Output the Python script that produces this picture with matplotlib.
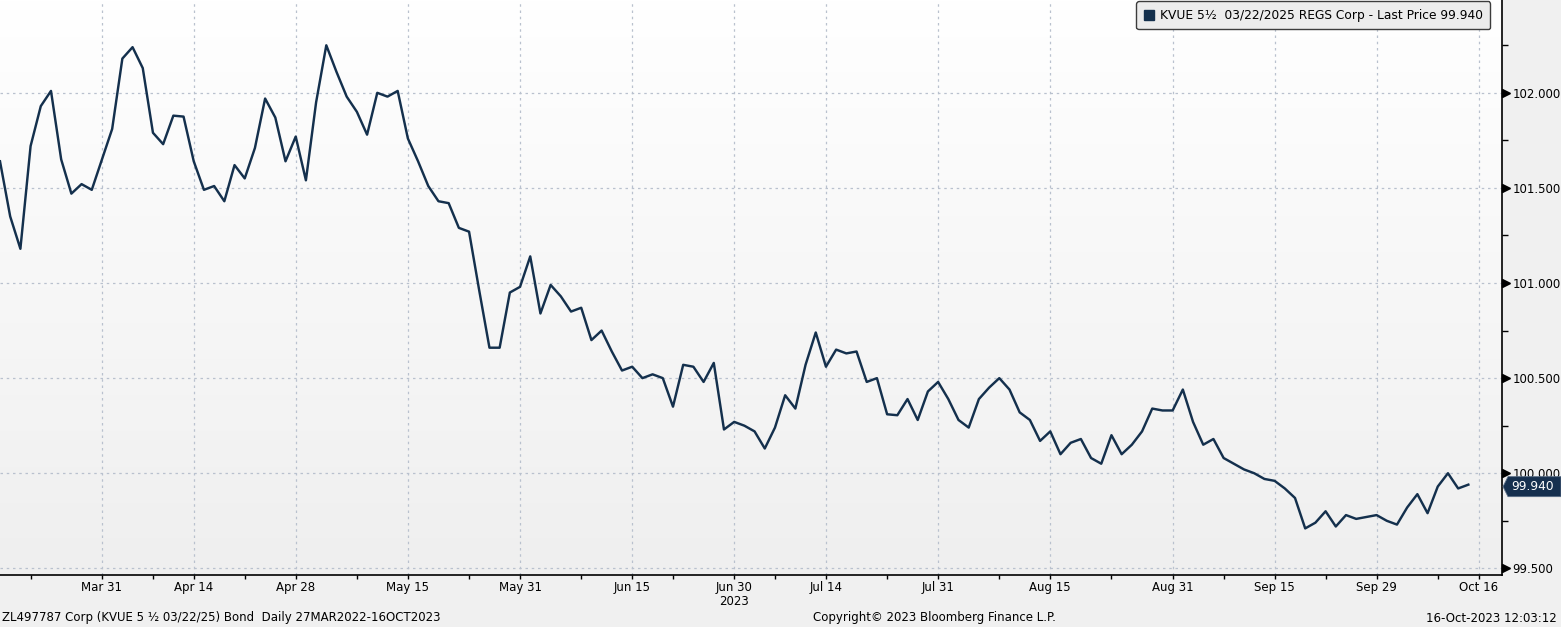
import numpy as np
import pandas as pd
import matplotlib
matplotlib.use("Agg")
import matplotlib.pyplot as plt
import matplotlib.transforms as mtransforms
from matplotlib.patches import Polygon
from matplotlib.lines import Line2D
from matplotlib.colors import LinearSegmentedColormap

# ---------------- data ----------------
start_date = "2023-03-17"
end_date = "2023-10-18"
holidays = ["2023-04-07", "2023-05-29", "2023-06-19", "2023-07-04",
            "2023-09-04", "2023-10-09"]

prices = [
    101.64, 101.35, 101.18, 101.72, 101.93, 102.01, 101.65, 101.47, 101.52, 101.49,
    101.65, 101.81, 102.18, 102.24, 102.13, 101.79, 101.73, 101.88, 101.875, 101.64,
    101.49, 101.51, 101.43, 101.62, 101.55, 101.71, 101.97, 101.87, 101.64, 101.77,
    101.54, 101.95, 102.25, 102.11, 101.98, 101.90, 101.78, 102.00, 101.98, 102.01,
    101.76, 101.64, 101.51, 101.43, 101.42, 101.29, 101.27, 100.96, 100.66, 100.66,
    100.95, 100.98, 101.14, 100.84, 100.99, 100.93, 100.85, 100.87, 100.70, 100.75,
    100.64, 100.54, 100.56, 100.50, 100.52, 100.50, 100.35, 100.57, 100.56, 100.48,
    100.58, 100.23, 100.27, 100.25, 100.22, 100.13, 100.24, 100.41, 100.34, 100.57,
    100.74, 100.56, 100.65, 100.63, 100.64, 100.48, 100.50, 100.31, 100.305, 100.39,
    100.28, 100.43, 100.48, 100.39, 100.28, 100.24, 100.39, 100.45, 100.50, 100.44,
    100.32, 100.28, 100.17, 100.22, 100.10, 100.16, 100.18, 100.08, 100.05, 100.20,
    100.10, 100.15, 100.22, 100.34, 100.33, 100.33, 100.44, 100.27, 100.15, 100.18,
    100.08, 100.05, 100.02, 100.00, 99.97, 99.96, 99.92, 99.87, 99.71, 99.74,
    99.80, 99.72, 99.78, 99.76, 99.77, 99.78, 99.75, 99.73, 99.82, 99.89,
    99.79, 99.93, 100.00, 99.92, 99.94,
]

major_dates = ["2023-03-31", "2023-04-14", "2023-04-28", "2023-05-15", "2023-05-31",
               "2023-06-15", "2023-06-30", "2023-07-14", "2023-07-31", "2023-08-15",
               "2023-08-31", "2023-09-15", "2023-09-29", "2023-10-16"]
major_labels = ["Mar 31", "Apr 14", "Apr 28", "May 15", "May 31", "Jun 15", "Jun 30",
                "Jul 14", "Jul 31", "Aug 15", "Aug 31", "Sep 15", "Sep 29", "Oct 16"]
minor_dates = ["2023-03-22", "2023-04-10", "2023-04-21", "2023-05-08", "2023-05-23",
               "2023-06-08", "2023-06-22", "2023-07-07", "2023-07-24", "2023-08-08",
               "2023-08-23", "2023-09-08", "2023-09-22", "2023-10-10"]
year_label = "2023"
year_label_date = "2023-06-30"

y_major = [99.5, 100.0, 100.5, 101.0, 101.5, 102.0]
y_minor = [99.75, 100.25, 100.75, 101.25, 101.75, 102.25]

series_name = "KVUE 5\u00bd  03/22/2025 REGS Corp - Last Price"
footer_left = "ZL497787 Corp (KVUE 5 \u00bd 03/22/25) Bond  Daily 27MAR2022-16OCT2023"
footer_mid = "Copyright\u00a9 2023 Bloomberg Finance L.P."
footer_right = "16-Oct-2023 12:03:12"

# ---------------- styling ----------------
plt.rcParams["font.family"] = ["DejaVu Sans"]
LINE = "#14304d"
GRID = "#b9c1ce"
FS = 8.5

W, H = 1561, 627
fig = plt.figure(figsize=(W / 100, H / 100), dpi=100)
fig.patch.set_facecolor("#f0f0f0")

ax_left, ax_right, ax_bottom_px = 0, 1502, 575
ax = fig.add_axes([ax_left / W, 1 - ax_bottom_px / H, (ax_right - ax_left) / W, ax_bottom_px / H])

# trading calendar
dates = pd.bdate_range(start_date, end_date)
dates = dates[~dates.isin(pd.to_datetime(holidays))]
x = np.arange(len(prices))

# gradient background
grad = np.linspace(0, 1, 256).reshape(-1, 1)
cmap = LinearSegmentedColormap.from_list("bg", ["#ffffff", "#efefef"])
ax.imshow(grad, cmap=cmap, aspect="auto", extent=[0, 1, 0, 1], origin="upper",
          transform=ax.transAxes, zorder=0)

ax.plot(x, prices, color=LINE, lw=1.75, zorder=3)

ax.set_xlim(0, 147.3)
ax.set_ylim(99.465, 102.488)

maj_pos = dates.get_indexer(pd.to_datetime(major_dates))
min_pos = dates.get_indexer(pd.to_datetime(minor_dates))
ax.set_xticks(maj_pos)
ax.set_xticklabels(major_labels, fontsize=FS)
ax.set_xticks(min_pos, minor=True)
ax.tick_params(axis="x", which="both", direction="out", length=3, width=1,
               color="black", pad=1.5)

ax.yaxis.tick_right()
ax.set_yticks(y_major)
ax.set_yticklabels([f"{v:.3f}" for v in y_major], fontsize=FS)
ax.set_yticks(y_minor, minor=True)
ax.tick_params(axis="y", which="major", length=0, pad=7.5)
ax.tick_params(axis="y", which="minor", length=4, width=1, direction="out", color="black")

ax.grid(True, which="major", color=GRID, linestyle=(0, (2, 3)), lw=0.9, zorder=1)

for s in ["top", "left"]:
    ax.spines[s].set_visible(False)
ax.spines["right"].set_color("black")
ax.spines["bottom"].set_color("black")
ax.spines["right"].set_linewidth(1.2)
ax.spines["bottom"].set_linewidth(1.2)

# triangle major tick markers on right axis
tri_tr = mtransforms.blended_transform_factory(ax.transAxes, ax.transData) + \
    mtransforms.ScaledTranslation(3.5 / 100, 0, fig.dpi_scale_trans)
ax.plot([1.0] * len(y_major), y_major, linestyle="none", marker=">", markersize=5.5,
        color="black", transform=tri_tr, clip_on=False, zorder=5)

# year label
yr_pos = dates.get_loc(pd.Timestamp(year_label_date))
ax.text(yr_pos, -0.046, year_label, transform=ax.get_xaxis_transform(),
        ha="center", va="center", fontsize=FS)

# legend
handle = Line2D([], [], linestyle="none", marker="s", markersize=7.5, color=LINE)
leg = ax.legend([handle], [f"{series_name} {prices[-1]:.3f}"], loc="upper right",
                bbox_to_anchor=(1490 / 1502, 1 - 1.5 / 575), borderaxespad=0,
                fontsize=8.8, handlelength=0.8, handletextpad=0.5, borderpad=0.6,
                fancybox=True, framealpha=1, facecolor="#ececec", edgecolor="#3c3c3c")
leg.get_frame().set_linewidth(1.0)

# last price tag
fig.canvas.draw()
y_disp = ax.transData.transform((0, prices[-1]))[1] - 2
x_disp = ax.transAxes.transform((1, 0))[0]
inv = fig.transFigure.inverted()
hh = 10
pts_disp = [(x_disp + 1, y_disp), (x_disp + 6, y_disp + hh), (W, y_disp + hh),
            (W, y_disp - hh), (x_disp + 6, y_disp - hh)]
pts_fig = inv.transform(pts_disp)
fig.add_artist(Polygon(pts_fig, closed=True, facecolor="#16304f", edgecolor="#5a6e86",
                       linewidth=0.6, transform=fig.transFigure, zorder=10))
tx, ty = inv.transform((x_disp + 9, y_disp))
fig.text(tx, ty, f"{prices[-1]:.3f}", color="white", fontsize=8.8, va="center",
         ha="left", zorder=11)

# footer
fig.text(2 / W, 1 - 618 / H, footer_left, fontsize=FS, va="center", ha="left")
fig.text(813 / W, 1 - 618 / H, footer_mid, fontsize=FS, va="center", ha="left")
fig.text(1557 / W, 1 - 618 / H, footer_right, fontsize=FS, va="center", ha="right")

fig.savefig("out.png", dpi=100, facecolor=fig.get_facecolor())
